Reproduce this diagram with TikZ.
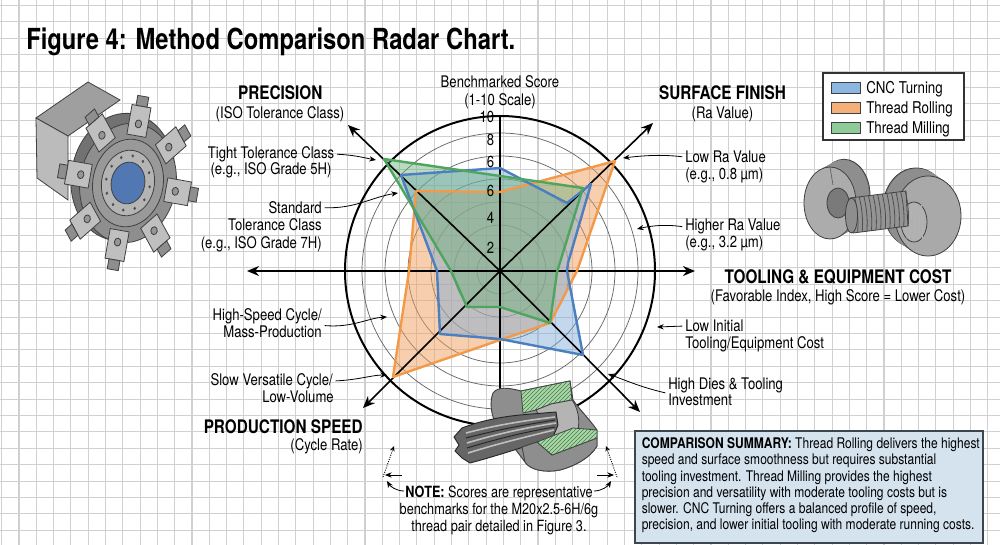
\documentclass[tikz,border=0pt]{standalone}
\usepackage{fontspec}
\setmainfont{TeX Gyre Heros}[FakeStretch=0.82]
\usetikzlibrary{arrows.meta,patterns}
\definecolor{gridc}{HTML}{D0D0D0}
\definecolor{cncline}{HTML}{4B7FC0}
\definecolor{cncfill}{HTML}{7AAAD8}
\definecolor{rolline}{HTML}{F29A48}
\definecolor{rolfill}{HTML}{F0A060}
\definecolor{milline}{HTML}{4DA55E}
\definecolor{milfill}{HTML}{6AAE78}
\definecolor{sumfill}{HTML}{D5E3EE}
\definecolor{sumdraw}{HTML}{3C4650}
\definecolor{metal}{HTML}{8E8E8E}
\definecolor{metaldark}{HTML}{4E4E4E}
\definecolor{metallight}{HTML}{B4B4B4}
\definecolor{hatchg}{HTML}{A8D8A8}
\definecolor{turretblue}{HTML}{5278B4}
\definecolor{swblue}{HTML}{8DB6E0}
\definecolor{sworange}{HTML}{F5B07A}
\definecolor{swgreen}{HTML}{8DCB98}
\begin{document}
\begin{tikzpicture}[x=0.75pt,y=-0.75pt,
  gridline/.style={draw=gridc, line width=0.85pt},
  lab/.style={font=\fontsize{12pt}{13pt}\selectfont, inner sep=0pt},
  hdr/.style={font=\fontsize{14pt}{15pt}\selectfont\bfseries, inner sep=0pt},
  tick/.style={font=\fontsize{12pt}{12pt}\selectfont, inner sep=0pt, anchor=base east},
  axisline/.style={line width=1.2pt, -{Stealth[length=9pt,width=7.5pt]}},
  leader/.style={line width=0.6pt, -{Stealth[length=5pt,width=4pt]}},
  ring/.style={draw=black!60, line width=0.55pt},
  dataline/.style={line width=1.8pt, line join=round},
  part/.style={draw=black!75, line width=0.6pt},
  hatchface/.style={fill=hatchg, draw=black!75, line width=0.6pt,
     postaction={pattern=north east lines, pattern color=green!25!black!70}},
  swatch/.style={draw=black!75, line width=0.7pt}
]
\useasboundingbox (0,0) rectangle (1000,545);
\fill[white] (0,0) rectangle (1000,545);
% grid paper
\foreach \k in {0,...,57} \draw[gridline] ({1.7+17.3*\k},0) -- ({1.7+17.3*\k},545);
\foreach \k in {0,...,33} \draw[gridline] (0,{5.5+16.4*\k}) -- (1000,{5.5+16.4*\k});

% title
\node[anchor=base west, inner sep=0pt, font=\fontsize{21.75pt}{24pt}\selectfont\bfseries] (title) at (26,50) {Figure 4: Method Comparison Radar Chart.};

% ---------------- radar ----------------
\coordinate (O) at (500,271);
\coordinate (aT) at (500,116);
\coordinate (aB) at (500,428);
\coordinate (aL) at (247,271);
\coordinate (aR) at (695,271);
\coordinate (aUL) at (348,125);
\coordinate (aUR) at (653,123);
\coordinate (aDL) at (363,408);
\coordinate (aDR) at (640,412);

\foreach \r in {23,46,69,92,115,138} \draw[ring] (O) circle[radius=\r];
\draw[line width=1.5pt] (O) circle[radius=155];

% fills
\fill[rolfill, fill opacity=0.5] (416,191) -- (500,192) -- (615,161) -- (577,271) -- (550,323) -- (500,340) -- (393,377) -- (409,271) -- cycle;
\fill[cncfill, fill opacity=0.45] (401,175) -- (500,168) -- (567,203) -- (591,184) -- (568,263) -- (567,271) -- (583,355) -- (500,339) -- (440,334) -- (437,271) -- cycle;
\fill[milfill, fill opacity=0.45] (384,159) -- (500,176) -- (583,188) -- (557,272) -- (550,323) -- (500,307) -- (467,307) -- (451,271) -- cycle;

% axes
\draw[axisline] (O) -- (aUL);
\draw[axisline] (O) -- (aUR);
\draw[axisline] (O) -- (aL);
\draw[axisline] (O) -- (aR);
\draw[axisline] (O) -- (aDL);
\draw[axisline] (O) -- (aDR);
\draw[line width=1.2pt] (O) -- (aT);
\draw[line width=1.2pt] (O) -- (aB);

% data outlines
\draw[dataline, rolline] (416,191) -- (500,192) -- (615,161) -- (577,271) -- (550,323) -- (500,340) -- (393,377) -- (409,271) -- cycle;
\draw[dataline, cncline] (401,175) -- (500,168) -- (567,203) -- (591,184) -- (568,263) -- (567,271) -- (583,355) -- (500,339) -- (440,334) -- (437,271) -- cycle;
\draw[dataline, milline] (384,159) -- (500,176) -- (583,188) -- (557,272) -- (550,323) -- (500,307) -- (467,307) -- (451,271) -- cycle;

% scale
\node[lab, anchor=base] (bench1) at (500,87.5) {Benchmarked Score};
\node[lab, anchor=base] (bench2) at (500,105.1) {(1-10 Scale)};
\node[tick] (t10) at (494.5,122.8) {10};
\node[tick] (t8) at (494.5,145.8) {8};
\node[tick] (t6a) at (494.5,167.5) {6};
\node[tick] (t6b) at (494.5,196.8) {6};
\node[tick] (t4) at (494.5,224) {4};
\node[tick] (t2) at (494.5,254) {2};

% axis titles
\node[hdr, anchor=base] (precT) at (280.3,99.4) {PRECISION};
\node[lab, anchor=base] (precS) at (280,118.4) {(ISO Tolerance Class)};
\node[hdr, anchor=base] (surfT) at (722.5,99.4) {SURFACE FINISH};
\node[lab, anchor=base] (surfS) at (722.5,118.5) {(Ra Value)};
\node[hdr, anchor=base] (toolT) at (838,283.4) {TOOLING \& EQUIPMENT COST};
\node[lab, anchor=base] (toolS) at (838,301.8) {(Favorable Index, High Score = Lower Cost)};
\node[hdr, anchor=base east] (prodT) at (363,433.4) {PRODUCTION SPEED};
\node[lab, anchor=base east] (prodS) at (363,450.8) {(Cycle Rate)};

% annotation labels
\node[lab, anchor=base] (tight1) at (271,158.5) {Tight Tolerance Class};
\node[lab, anchor=base] (tight2) at (271,174.8) {(e.g., ISO Grade 5H)};
\node[lab, anchor=base east] (std1) at (322,213.5) {Standard};
\node[lab, anchor=base east] (std2) at (322,230.8) {Tolerance Class};
\node[lab, anchor=base east] (std3) at (322,248.5) {(e.g., ISO Grade 7H)};
\node[lab, anchor=base east] (hs1) at (322,320.8) {High-Speed Cycle/};
\node[lab, anchor=base east] (hs2) at (322,337.5) {Mass-Production};
\node[lab, anchor=base east] (sl1) at (333,385.1) {Slow Versatile Cycle/};
\node[lab, anchor=base east] (sl2) at (334,402.5) {Low-Volume};
\node[lab, anchor=base west] (lra1) at (685,162.5) {Low Ra Value};
\node[lab, anchor=base west] (lra2) at (685,179.8) {(e.g., 0.8 µm)};
\node[lab, anchor=base west] (hra1) at (685,230.8) {Higher Ra Value};
\node[lab, anchor=base west] (hra2) at (685,247.5) {(e.g., 3.2 µm)};
\node[lab, anchor=base west] (li1) at (685,331.8) {Low Initial};
\node[lab, anchor=base west] (li2) at (685,348.5) {Tooling/Equipment Cost};
\node[lab, anchor=base west] (hd1) at (668,389.1) {High Dies \& Tooling};
\node[lab, anchor=base west] (hd2) at (668,405.1) {Investment};

% leader targets
\coordinate (eTight) at (376,160);
\coordinate (eStd) at (398,193);
\coordinate (eHS) at (387,317);
\coordinate (eSlow) at (387,375);
\coordinate (eLRa) at (623,158);
\coordinate (eHRa) at (637,229);
\coordinate (eLI) at (657,327);
\coordinate (eHD) at (608,374);

\draw[leader] ([xshift=2pt]tight1.east) .. controls (355,155) and (365,158) .. (eTight);
\draw[leader] ([xshift=2pt]std1.east) .. controls (355,209) and (372,197) .. (eStd);
\draw[leader] ([xshift=2pt]hs2.north east) .. controls (352,328) and (368,318) .. (eHS);
\draw[leader] ([xshift=2pt]sl1.east) .. controls (358,380) and (372,375) .. (eSlow);
\draw[leader] ([xshift=-2pt]lra1.west) .. controls (660,154) and (640,156) .. (eLRa);
\draw[leader] ([xshift=-2pt]hra1.west) .. controls (665,224) and (650,226) .. (eHRa);
\draw[leader] ([xshift=-2pt]li1.west) -- (eLI);
\draw[leader] ([xshift=-2pt]hd1.south west) .. controls (640,387) and (625,380) .. (eHD);

% legend
\filldraw[fill=white, draw=black!80, line width=1.1pt] (823,73) rectangle (964,140);
\filldraw[swatch, fill=swblue] (831,82) rectangle (860,93);
\filldraw[swatch, fill=sworange] (831,102) rectangle (860,113);
\filldraw[swatch, fill=swgreen] (831,122) rectangle (860,133);
\node[anchor=base west, inner sep=0pt, font=\fontsize{12.2pt}{13pt}\selectfont] (lg1) at (866,93.4) {CNC Turning};
\node[anchor=base west, inner sep=0pt, font=\fontsize{12.2pt}{13pt}\selectfont] (lg2) at (866,113.4) {Thread Rolling};
\node[anchor=base west, inner sep=0pt, font=\fontsize{12.2pt}{13pt}\selectfont] (lg3) at (866,133.4) {Thread Milling};

% summary box
\filldraw[fill=sumfill, draw=sumdraw, line width=1.4pt] (635,431) rectangle (983,543);
\node[anchor=north west, inner sep=0pt, align=left, font=\fontsize{11pt}{12.1pt}\selectfont] (sumtext) at (641.5,437.7)
 {\textbf{COMPARISON SUMMARY:} Thread Rolling delivers the highest\\
  speed and surface smoothness but requires substantial\\
  tooling investment. Thread Milling provides the highest\\
  precision and versatility with moderate tooling costs but is\\
  slower. CNC Turning offers a balanced profile of speed,\\
  precision, and lower initial tooling with moderate running costs.};

% note
\node[anchor=north, inner sep=0pt, align=center, font=\fontsize{11.6pt}{12.5pt}\selectfont] (note) at (499,486)
 {\textbf{NOTE:} Scores are representative\\benchmarks for the M20x2.5-6H/6g\\thread pair detailed in Figure 3.};
\coordinate (dl1) at (383,477); \coordinate (dl2) at (394,446);
\coordinate (hl1) at (402,475); \coordinate (hl2) at (385,475);
\coordinate (nl1) at (404,491); \coordinate (nl2) at (387,481);
\coordinate (dr1) at (617,477); \coordinate (dr2) at (606,446);
\coordinate (hr1) at (597,475); \coordinate (hr2) at (614,475);
\coordinate (nr1) at (594,491); \coordinate (nr2) at (611,481);
\draw[densely dotted, line width=0.7pt, -{Stealth[length=4pt,width=3.5pt]}] (dl1) -- (dl2);
\draw[densely dotted, line width=0.7pt, -{Stealth[length=4pt,width=3.5pt]}] (dr1) -- (dr2);
\draw[leader] (hl1) -- (hl2);
\draw[leader] (hr1) -- (hr2);
\draw[leader] (nl1) .. controls (396,491) and (390,486) .. (nl2);
\draw[leader] (nr1) .. controls (602,491) and (608,486) .. (nr2);

% ---------------- turret illustration ----------------
\filldraw[part, fill=metal!85] (36,118) -- (88,82) -- (120,100) -- (68,136) -- cycle;
\filldraw[part, fill=metallight!90] (36,118) -- (68,136) -- (68,200) -- (37,178) -- cycle;
\begin{scope}[shift={(128,183)}, rotate=-10, xscale=0.8]
  \filldraw[part, fill=metal!80!black] (-8,-5) circle[radius=64];
  \filldraw[part, fill=metal] (0,0) circle[radius=60];
  \foreach \a in {0,45,...,315} {
    \filldraw[part, fill=metallight!85, rotate=\a] (48,-12) rectangle (78,12);
    \filldraw[part, fill=metal, rotate=\a] (78,-7) rectangle (88,7);
    \filldraw[part, fill=metaldark!60, rotate=\a] (60,0) circle[radius=4];
  }
  \filldraw[part, fill=metal!90] (0,0) circle[radius=44];
  \filldraw[part, fill=metallight] (0,0) circle[radius=33];
  \foreach \a in {0,30,...,330} \fill[metaldark] (\a:27.5) circle[radius=1.7];
  \filldraw[part, fill=turretblue] (0,0) circle[radius=21];
\end{scope}

% ---------------- thread rolling dies ----------------
\filldraw[part, fill=metal!80!black] (844,195.3) ellipse[x radius=26, y radius=36];
\foreach \t in {13,12,...,1} \fill[metal] ({830+\t},{203-0.55*\t}) ellipse[x radius=26, y radius=36];
\filldraw[part, fill=metallight!80!metal] (830,203) ellipse[x radius=26, y radius=36];
\filldraw[part, fill=metaldark!75] (838,203) ellipse[x radius=11, y radius=15];
\draw[black!60, line width=0.6pt] (830,167) -- (833,185);
\filldraw[part, fill=metal!80!black] (916,208) ellipse[x radius=33, y radius=40];
\foreach \t in {11,10,...,1} \fill[metal] ({928-\t},{216-0.67*\t}) ellipse[x radius=33, y radius=40];
\filldraw[part, fill=metallight!70!metal] (928,216) ellipse[x radius=33, y radius=40];
\filldraw[part, fill=metal!70] (914,222) ellipse[x radius=13, y radius=20];
\foreach \k in {0,...,6} \draw[metallight, line width=0.6pt] ({906+2.6*\k},205) -- ({907+2.6*\k},239);
\filldraw[part, fill=metal!95] (850,198) -- (906,191) -- (908,226) -- (853,233) -- cycle;
\foreach \k in {0,...,12} \draw[metaldark, line width=0.6pt] ({850+4.6*\k},{198-0.58*\k}) .. controls ({853+4.6*\k},{210-0.58*\k}) and ({854+4.6*\k},{222-0.58*\k}) .. ({853+4.6*\k},{233-0.58*\k});
\filldraw[part, fill=metal] (851.5,215.5) ellipse[x radius=6, y radius=17.5];

% ---------------- thread mill cut-away ----------------
\filldraw[part, fill=metal, line width=0.7pt] (493,393) .. controls (498,386) and (510,388) .. (521,391) -- (570,381) -- (573,400) .. controls (580,410) and (590,420) .. (597,430) -- (597,446) .. controls (590,458) and (575,466) .. (560,470) .. controls (545,473) and (530,470) .. (525,462) -- (497,425) .. controls (490,415) and (490,400) .. (493,393) -- cycle;
\filldraw[hatchface] (521,391) -- (570,381) -- (572,400) -- (551,404) -- (536,410) -- (523,413) -- cycle;
\filldraw[part, fill=metallight] (536,410) -- (551,404) -- (572,400) .. controls (578,408) and (580,420) .. (578,430) -- (553,437) -- cycle;
\filldraw[fill=black!60, draw=black!85, line width=0.7pt] (462,428) .. controls (480,421) and (500,417) .. (520,415) -- (556,412) -- (558,425) -- (553,437) .. controls (530,445) and (500,455) .. (470,463) -- (462,458) -- (455,451) -- (459,445) -- (454,437) -- cycle;
\draw[black!25, line width=1.2pt] (466,433) .. controls (500,424) and (530,420) .. (555,417);
\draw[black!25, line width=1.2pt] (467,443) .. controls (500,433) and (530,427) .. (556,423);
\draw[black!25, line width=1.2pt] (468,453) .. controls (500,443) and (530,436) .. (554,430);
\draw[black!85, line width=0.7pt] (466,438) .. controls (500,429) and (530,424) .. (555,420);
\draw[black!85, line width=0.7pt] (467,448) .. controls (500,438) and (530,431) .. (555,427);
\filldraw[part, fill=metal] (522,447) -- (537,442) -- (552,455) -- (597,438) -- (597,446) .. controls (590,458) and (575,466) .. (560,470) .. controls (545,473) and (530,470) .. (525,462) -- cycle;
\filldraw[hatchface] (537,442) -- (573,428) -- (597,430) -- (597,438) -- (552,455) -- cycle;
\end{tikzpicture}
\end{document}
